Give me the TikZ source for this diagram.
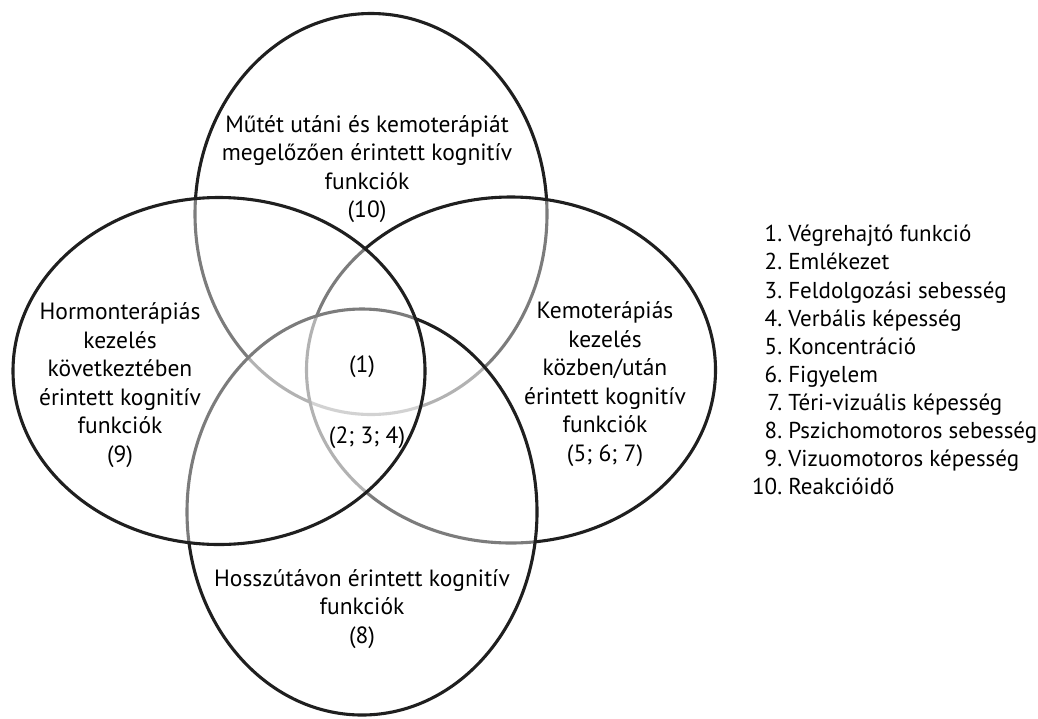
\documentclass[tikz,border=0pt]{standalone}
\usepackage{fontspec}
\setmainfont{PT Sans}
\usetikzlibrary{shapes.geometric}
\tikzset{
  venn/.style={ellipse, draw=black!88, line width=3.1pt, fill=white, fill opacity=0.42, inner sep=0pt, outer sep=0pt},
  lbl/.style={align=center, font=\fontsize{23.5}{28.5}\selectfont, text=black, inner sep=0pt},
}
\begin{document}
\begin{tikzpicture}[x=1pt,y=-1pt]
\useasboundingbox (0,0) rectangle (1038,718);
% ellipses, drawn bottom to top
\node[venn, minimum width=352pt, minimum height=401pt] (top) at (371,214) {};
\node[venn, minimum width=409pt, minimum height=346pt] (right) at (511,370) {};
\node[venn, minimum width=350pt, minimum height=406pt] (bottom) at (362,512) {};
\node[venn, minimum width=412pt, minimum height=347pt] (left) at (219,371) {};
% labels
\node[lbl] (ttop) at (367,169) {Műtét utáni és kemoterápiát\\megelőzően érintett kognitív\\funkciók\\(10)};
\node[lbl] (tleft) at (120,385) {Hormonterápiás\\kezelés\\következtében\\érintett kognitív\\funkciók\\(9)};
\node[lbl] (tright) at (605,384) {Kemoterápiás\\kezelés\\közben/után\\érintett kognitív\\funkciók\\(5; 6; 7)};
\node[lbl] (tbottom) at (362,609) {Hosszútávon érintett kognitív\\funkciók\\(8)};
\node[lbl] (tc1) at (362,367) {(1)};
\node[lbl] (tc2) at (367,438) {(2; 3; 4)};
% legend
\node[anchor=north west, inner sep=0pt, font=\fontsize{23}{28.1}\selectfont, text=black] (legend) at (752,222) {%
\begin{tabular}{@{}r@{\ }l@{}}
1. & Végrehajtó funkció\\
2. & Emlékezet\\
3. & Feldolgozási sebesség\\
4. & Verbális képesség\\
5. & Koncentráció\\
6. & Figyelem\\
7. & Téri-vizuális képesség\\
8. & Pszichomotoros sebesség\\
9. & Vizuomotoros képesség\\
10. & Reakcióidő
\end{tabular}};
\end{tikzpicture}
\end{document}
